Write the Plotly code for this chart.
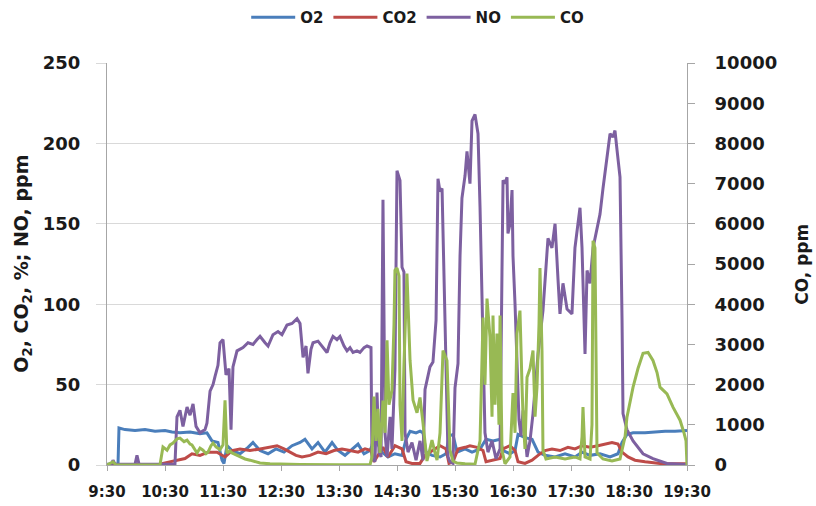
import plotly.graph_objects as go

# time: minutes after 9:30
o2_t = [0, 5.2, 11.4, 12.4, 18.6, 29.0, 39.3, 49.7, 60.0, 67.2, 75.5, 85.9, 96.2, 103.4, 108.6, 114.8, 119.0, 121.0,
        124.1, 129.3, 137.6, 145.9, 151.0, 158.3, 166.6, 174.8, 183.1, 191.4, 199.7, 204.8, 212.1, 218.3, 225.5,
        232.8, 239.0, 246.2, 253.4, 259.7, 265.9, 272.1, 274.1, 277.2, 279.3, 284.5, 290.7, 297.9, 305.2, 309.3,
        313.5, 319.7, 323.8, 326.9, 330.0, 336.2, 344.5, 350.7, 353.8, 357.9, 362.1, 370.4, 377.6, 385.9, 392.1,
        399.3, 406.6, 409.7, 416.9, 422.1, 425.2, 432.4, 439.7, 445.9, 453.1, 463.5, 473.8, 484.1, 491.4, 499.7,
        510.0, 520.4, 528.6, 532.8, 537.9, 544.2, 556.6, 566.9, 577.3, 587.6, 600]
o2_v = [0.5, 0.5, 0.5, 23, 22, 21.5, 22, 21, 21.5, 20.5, 20, 20.5, 19.5, 20, 15, 14, 3, 1,
        12, 9, 7, 11, 14, 9, 7, 10, 8, 12, 14, 16, 10, 14, 8,
        14, 9, 6, 10, 13, 7, 9, 12, 20, 14, 8, 5, 7, 6, 16,
        21, 20, 21, 20, 8, 6, 5, 7, 18, 19, 8, 10, 8, 10, 16,
        15, 16, 9, 7, 9, 19, 17, 16, 8, 6, 5, 7, 5, 8, 6,
        7, 5, 7, 14, 19, 20, 20, 20.5, 21, 21, 21.5]

co2_t = [0, 54.8, 57.9, 65.2, 72.4, 80.7, 87.9, 96.2, 104.5, 113.8, 122.1, 129.3, 137.6, 147.9, 158.3, 168.6, 175.9,
         183.1, 189.3, 195.5, 201.7, 210.0, 218.3, 226.6, 234.8, 243.1, 251.4, 259.7, 266.9, 273.1, 276.2, 280.3,
         285.5, 290.7, 297.9, 305.2, 309.3, 315.5, 323.8, 329.0, 336.2, 344.5, 350.7, 353.8, 357.9, 363.1, 370.4,
         375.5, 382.8, 389.0, 392.1, 399.3, 406.6, 409.7, 416.9, 422.1, 425.2, 432.4, 439.7, 445.9, 453.1, 460.3,
         468.6, 476.9, 484.1, 491.4, 499.7, 507.9, 515.2, 522.4, 528.6, 532.8, 539.0, 546.2, 556.6, 572.1, 587.6, 600]
co2_v = [0.3, 0.3, 1, 2, 3, 4, 7, 6, 8, 8, 5, 9, 10, 9, 10, 11, 12,
         10, 8, 6, 5, 6, 8, 7, 9, 10, 9, 8, 10, 9, 2, 6,
         11, 5, 12, 10, 2, 1, 1, 6, 9, 12, 10, 1, 2, 10, 11,
         12, 11, 9, 2, 3, 4, 10, 12, 9, 2, 1, 3, 6, 9, 10,
         9, 11, 10, 12, 11, 12, 13, 14, 13, 8, 5, 3, 2, 1, 0.8, 0.8]

no_t = [0, 5.2, 6.2, 8.3, 29.0, 31.0, 33.1, 70.3, 72.4, 75.5, 78.6, 82.8, 85.9, 89.0, 92.1, 96.2, 101.4, 103.4,
        106.6, 109.7, 111.7, 114.8, 116.9, 120.0, 123.1, 126.2, 128.3, 130.3, 134.5, 140.7, 145.9, 151.0, 155.2,
        158.3, 163.5, 166.6, 171.7, 176.9, 181.0, 186.2, 191.4, 196.6, 199.7, 202.8, 205.9, 207.9, 211.0, 213.1,
        218.3, 222.4, 227.6, 230.7, 233.8, 237.9, 241.0, 245.2, 248.3, 251.4, 254.5, 258.6, 261.7, 265.9, 269.0,
        273.1, 274.1, 277.2, 279.3, 281.4, 283.5, 285.5, 287.6, 289.7, 292.8, 294.8, 297.9, 300.0, 303.1, 305.2,
        307.2, 308.3, 311.4, 315.5, 319.7, 323.8, 326.9, 329.0, 332.1, 334.1, 337.2, 340.4, 342.4, 344.5, 346.6,
        349.7, 352.8, 354.8, 357.9, 360.0, 363.1, 365.2, 367.2, 370.4, 372.4, 375.5, 377.6, 380.7, 383.8, 385.9,
        387.9, 391.0, 394.1, 398.3, 402.4, 406.6, 408.6, 409.7, 411.7, 413.8, 414.8, 416.9, 419.0, 420.0, 422.1,
        424.1, 426.2, 428.3, 430.4, 434.5, 437.6, 440.7, 445.9, 451.0, 454.1, 456.2, 460.3, 463.5, 466.6, 468.6,
        471.7, 475.9, 481.0, 484.1, 487.2, 489.3, 491.4, 494.5, 496.6, 499.7, 502.8, 506.9, 510.0, 513.1, 517.2,
        520.4, 523.4, 525.5, 527.6, 530.7, 532.8, 533.8, 537.9, 544.2, 554.5, 564.8, 579.3, 592.8, 600]
no_v = [0, 1, 3, 0.5, 0.5, 6, 0.5, 0.5, 30, 34, 24, 36, 31, 38, 24, 20, 22, 26,
        46, 50, 55, 62, 76, 78, 56, 60, 22, 61, 71, 73, 76, 75, 78,
        80, 76, 74, 81, 83, 81, 87, 88, 91, 88, 67, 74, 57, 72, 76,
        77, 74, 70, 76, 80, 78, 80, 74, 71, 73, 70, 71, 70, 73, 74,
        73, 5, 2, 45, 8, 5, 165, 20, 5, 30, 10, 60, 183, 177, 123,
        120, 20, 8, 14, 3, 15, 3, 47, 55, 61, 64, 90, 178, 170, 172,
        82, 5, 2, 1, 48, 63, 130, 166, 180, 195, 175, 214, 218, 206, 160,
        102, 20, 8, 15, 4, 10, 120, 177, 175, 179, 144, 150, 171, 130, 100,
        60, 28, 18, 34, 5, 15, 32, 69, 96, 120, 141, 135, 150, 115, 94,
        113, 97, 94, 135, 150, 160, 135, 69, 121, 113, 135, 148, 156, 172, 191,
        206, 204, 208, 196, 179, 90, 32, 22, 15, 7, 4, 1, 0.3, 0.3]

co_t = [0, 6.2, 9.3, 54.8, 57.9, 62.1, 65.2, 68.3, 72.4, 75.5, 79.7, 82.8, 85.9, 87.9, 91.0, 93.1, 96.2, 99.3,
        102.4, 104.5, 107.6, 109.7, 112.8, 116.9, 120.0, 122.1, 124.1, 127.2, 129.3, 133.5, 137.6, 142.8, 147.9,
        153.1, 158.3, 168.6, 179.0, 199.7, 241.0, 272.1, 274.1, 276.2, 278.3, 280.3, 282.4, 285.5, 287.6, 289.7,
        291.7, 294.8, 296.9, 297.9, 300.0, 302.1, 303.1, 305.2, 307.2, 310.3, 313.5, 316.6, 320.7, 323.8, 326.9,
        331.0, 334.1, 336.2, 339.3, 341.4, 344.5, 347.6, 351.7, 354.8, 357.9, 362.1, 370.4, 380.7, 385.9, 389.0,
        391.0, 393.1, 396.2, 398.3, 399.3, 401.4, 403.4, 405.5, 406.6, 408.6, 411.7, 416.9, 420.0, 422.1, 424.1,
        427.2, 429.3, 430.4, 432.4, 434.5, 437.6, 440.7, 442.8, 444.8, 446.9, 447.9, 450.0, 451.0, 454.1, 463.5,
        473.8, 484.1, 489.3, 491.4, 492.4, 494.5, 499.7, 501.7, 502.8, 504.8, 506.9, 513.1, 522.4, 530.7, 535.9,
        537.9, 544.2, 549.3, 554.5, 559.7, 564.8, 569.0, 572.1, 579.3, 585.5, 592.8, 596.9, 599.0, 600]
co_v = [0, 80, 0, 0, 450, 370, 500, 545, 650, 670, 580, 620, 520, 500, 380, 300, 420, 370,
        280, 320, 480, 545, 450, 380, 500, 1610, 300, 350, 300, 250, 200, 150, 120,
        80, 50, 30, 20, 10, 5, 5, 200, 1700, 600, 1400, 300, 1600, 800, 3100,
        1500, 1860, 3500, 4840, 4900, 4700, 1500, 600, 2500, 4760, 2600, 1610, 1300, 1680, 1040,
        100, 400, 620, 300, 120, 800, 2850, 2600, 370, 100, 50, 30, 20, 600, 3670,
        2000, 4140, 3180, 1200, 3720, 1500, 3270, 1000, 3720, 370, 30, 200, 1790, 800, 3270,
        3840, 2000, 1190, 400, 2180, 2400, 2850, 1200, 1930, 3500, 4900, 2850, 370, 150, 200,
        150, 200, 150, 700, 1440, 200, 150, 1000, 5580, 5400, 300, 150, 100, 150, 700,
        1190, 1935, 2400, 2780, 2800, 2600, 2300, 1935, 1770, 1440, 1115, 800, 600, 0]

x_tickvals = [0, 60, 120, 180, 240, 300, 360, 420, 480, 540, 600]
x_ticktext = ["9:30", "10:30", "11:30", "12:30", "13:30", "14:30", "15:30", "16:30", "17:30", "18:30", "19:30"]
y_tickvals = [0, 50, 100, 150, 200, 250]
y2_tickvals = [0, 1000, 2000, 3000, 4000, 5000, 6000, 7000, 8000, 9000, 10000]
y2_ticktext = ["0", "1000", "2000", "3000", "4000", "5000", "6000", "7000", "8000", "9000", "10000"]

FONT = "DejaVu Sans"
GRID = "#d9d9d9"
AXIS = "#a6a6a6"
TXT = "#1a1a1a"

fig = go.Figure()
fig.add_trace(go.Scatter(x=o2_t, y=o2_v, name="O2", mode="lines", line=dict(color="#4a7ebb", width=3)))
fig.add_trace(go.Scatter(x=co2_t, y=co2_v, name="CO2", mode="lines", line=dict(color="#be4b48", width=3)))
fig.add_trace(go.Scatter(x=no_t, y=no_v, name="NO", mode="lines", line=dict(color="#7d60a0", width=3)))
fig.add_trace(go.Scatter(x=co_t, y=co_v, name="CO", mode="lines", line=dict(color="#98b954", width=3), yaxis="y2"))

fig.update_layout(
    width=816, height=506,
    margin=dict(l=107, r=129, t=63, b=41, autoexpand=False),
    paper_bgcolor="white", plot_bgcolor="white",
    font=dict(family=FONT, color=TXT),
    showlegend=True,
    legend=dict(orientation="h", x=0.24, xanchor="left", y=1.113, yanchor="middle",
                font=dict(family=FONT, size=15, weight="bold", color=TXT),
                itemwidth=44, tracegroupgap=0, bgcolor="rgba(0,0,0,0)"),
    xaxis=dict(range=[0, 600], tickvals=x_tickvals, ticktext=x_ticktext, showgrid=False, automargin=False,
               showline=True, linecolor=AXIS, linewidth=1, ticks="outside", ticklen=5, tickcolor=AXIS,
               tickfont=dict(family=FONT, size=15, weight="bold", color=TXT), ticklabelstandoff=8,
               zeroline=False),
    yaxis=dict(range=[0, 250], tickvals=y_tickvals, showgrid=True, gridcolor=GRID, automargin=False,
               gridwidth=1, showline=True, linecolor=AXIS, linewidth=1, ticks="outside", ticklen=10,
               tickcolor=GRID, tickfont=dict(family=FONT, size=18, weight="bold", color=TXT),
               ticklabelstandoff=12, zeroline=False),
    yaxis2=dict(range=[0, 10000], tickvals=y2_tickvals, ticktext=y2_ticktext, overlaying="y", side="right",
                showgrid=False, automargin=False,
                showline=True, linecolor=AXIS, linewidth=1, ticks="outside", ticklen=7, tickcolor=AXIS,
                tickfont=dict(family=FONT, size=18, weight="bold", color=TXT), ticklabelstandoff=16,
                zeroline=False),
    annotations=[
        dict(text="O<sub>2</sub>, CO<sub>2</sub>, %; NO, ppm", xref="paper", yref="paper",
             x=-0.147, y=0.5, textangle=-90, showarrow=False, xanchor="center", yanchor="middle",
             font=dict(family=FONT, size=19, weight="bold", color=TXT)),
        dict(text="CO, ppm", xref="paper", yref="paper", x=1.198, y=0.5, textangle=-90,
             showarrow=False, xanchor="center", yanchor="middle",
             font=dict(family=FONT, size=17, weight="bold", color=TXT)),
    ],
)

fig.write_html("out.html", config={"displayModeBar": False},
               post_script="document.body.style.margin='0';document.body.style.overflow='hidden';")
